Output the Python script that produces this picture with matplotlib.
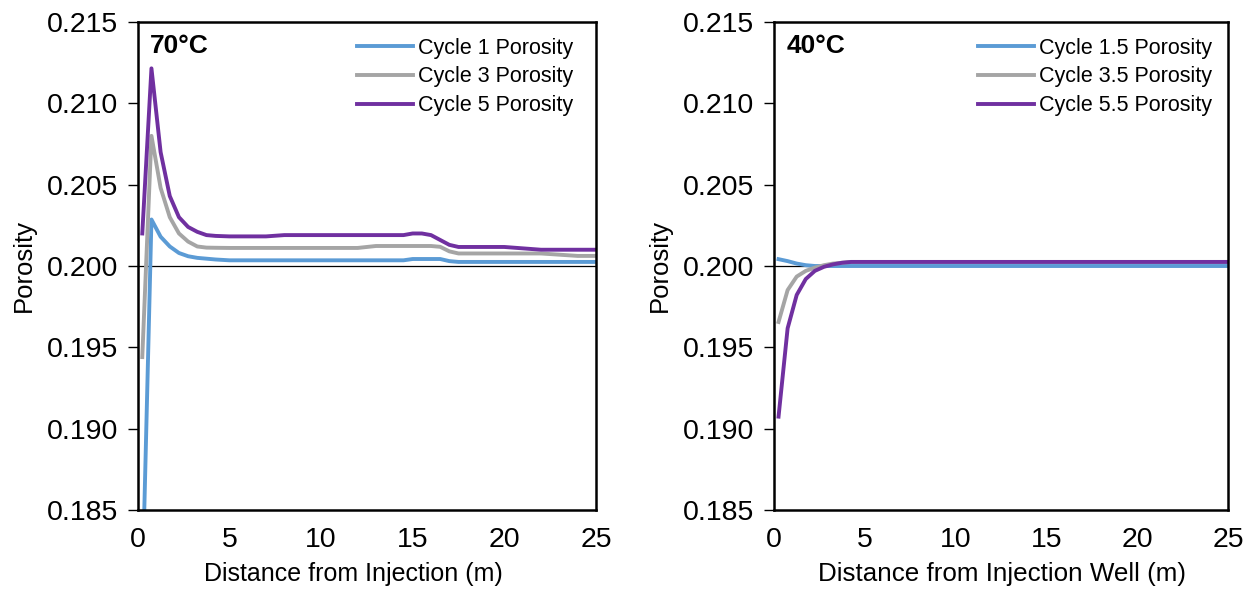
import matplotlib.pyplot as plt

plt.rcParams['font.family'] = ['Liberation Sans', 'DejaVu Sans']

# distance along the model (m)
dist = [0.25, 0.75, 1.25, 1.75, 2.25, 2.75, 3.25, 3.75, 4.25, 5, 7, 8, 12, 13, 14.5,
        15, 15.5, 16, 16.5, 17, 17.5, 20, 22, 24, 25]

# 70 C case
c1 = [0.1800, 0.20286, 0.2018, 0.2012, 0.2008, 0.2006, 0.2005, 0.20045, 0.2004, 0.20035, 0.20035,
      0.20035, 0.20035, 0.20035, 0.20035, 0.20043, 0.20043, 0.20043, 0.20043, 0.2003, 0.20025,
      0.20025, 0.20025, 0.20025, 0.20025]
c3 = [0.1944, 0.2080, 0.2048, 0.2030, 0.2020, 0.2015, 0.2012, 0.20113, 0.20112, 0.20111, 0.20111,
      0.20111, 0.20111, 0.20123, 0.20123, 0.20123, 0.20123, 0.20123, 0.20118, 0.2009, 0.20077,
      0.20077, 0.20077, 0.20062, 0.20062]
c5 = [0.2020, 0.21215, 0.2070, 0.2043, 0.2030, 0.2024, 0.2021, 0.2019, 0.20185, 0.20182, 0.20182,
      0.2019, 0.2019, 0.2019, 0.2019, 0.2020, 0.2020, 0.2019, 0.2016, 0.2013, 0.20117,
      0.20117, 0.2010, 0.2010, 0.2010]

# 40 C case
c15 = [0.20042, 0.2003, 0.20015, 0.20005, 0.2000, 0.2000, 0.2000, 0.2000, 0.2000, 0.2000, 0.2000,
       0.2000, 0.2000, 0.2000, 0.2000, 0.2000, 0.2000, 0.2000, 0.2000, 0.2000, 0.2000,
       0.2000, 0.2000, 0.2000, 0.2000]
c35 = [0.19656, 0.19852, 0.19935, 0.1997, 0.1999, 0.20005, 0.20015, 0.2002, 0.20025, 0.20025, 0.20025,
       0.20025, 0.20025, 0.20025, 0.20025, 0.20025, 0.20025, 0.20025, 0.20025, 0.20025, 0.20025,
       0.20025, 0.20025, 0.20025, 0.20025]
c55 = [0.19074, 0.19617, 0.19822, 0.1992, 0.1997, 0.19995, 0.2001, 0.2002, 0.20025, 0.20025, 0.20025,
       0.20025, 0.20025, 0.20025, 0.20025, 0.20025, 0.20025, 0.20025, 0.20025, 0.20025, 0.20025,
       0.20025, 0.20025, 0.20025, 0.20025]

blue, gray, purple = '#5B9BD5', '#A5A5A5', '#7030A0'
yticks = [0.185, 0.190, 0.195, 0.200, 0.205, 0.210, 0.215]
xticks = [0, 5, 10, 15, 20, 25]

fig = plt.figure(figsize=(12.53, 5.89), dpi=100)
W, H = 1253, 589
ax1 = fig.add_axes([137.7 / W, (H - 510) / H, (596 - 137.7) / W, (510 - 22) / H])
ax2 = fig.add_axes([774 / W, (H - 510) / H, (1228 - 774) / W, (510 - 22) / H])

panels = [
    (ax1, '70°C', 'Distance from Injection (m)', 18, 0.471, 0.4785,
     [(c1, blue, 'Cycle 1 Porosity'), (c3, gray, 'Cycle 3 Porosity'), (c5, purple, 'Cycle 5 Porosity')]),
    (ax2, '40°C', 'Distance from Injection Well (m)', 18.7, 0.503, 0.449,
     [(c15, blue, 'Cycle 1.5 Porosity'), (c35, gray, 'Cycle 3.5 Porosity'), (c55, purple, 'Cycle 5.5 Porosity')]),
]

for ax, title, xlabel, xlsize, xlpos, legx, series in panels:
    ax.axhline(0.200, color='black', lw=0.9, zorder=1)
    for vals, col, lab in series:
        ax.plot(dist, vals, color=col, lw=2.8, label=lab, solid_joinstyle='round')
    ax.set_xlim(0, 25)
    ax.set_ylim(0.185, 0.215)
    ax.set_yticks(yticks)
    ax.set_yticklabels([f'{v:.3f}' for v in yticks])
    ax.set_xticks(xticks)
    ax.tick_params(axis='y', direction='out', length=7, width=1, labelsize=20.5, pad=7)
    ax.tick_params(axis='x', length=0, labelsize=20.5, pad=12)
    for s in ax.spines.values():
        s.set_linewidth(1.8)
    ax.set_xlabel(xlabel, fontsize=xlsize)
    ax.xaxis.set_label_coords(xlpos, -0.106)
    ax.set_ylabel('Porosity', fontsize=18.5, labelpad=8)
    ax.text(0.027, 0.975, title, transform=ax.transAxes, fontsize=19, fontweight='bold',
            va='top', ha='left')
    ax.legend(loc='upper left', bbox_to_anchor=(legx, 0.968), frameon=False, fontsize=15.5,
              handlelength=2.6, handletextpad=0.25, labelspacing=0.36, borderpad=0, borderaxespad=0)

fig.savefig('out.png', dpi=100)
